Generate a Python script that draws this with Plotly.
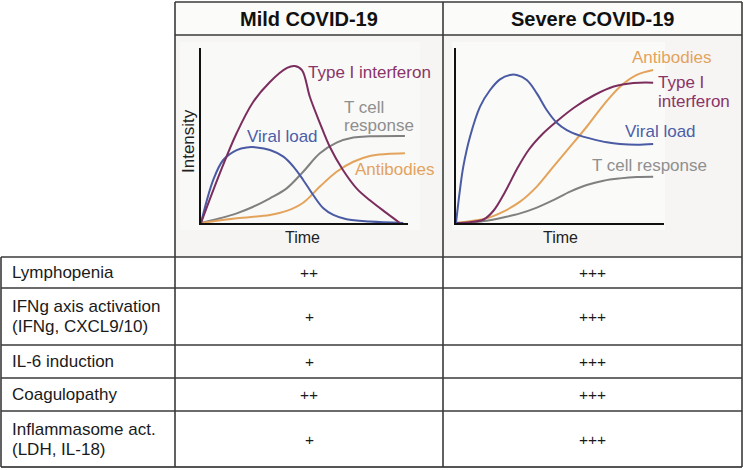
import plotly.graph_objects as go

W, H = 744, 470

# ---------------- data ----------------
panel_titles = ["Mild COVID-19", "Severe COVID-19"]

# Mild COVID-19 curves (time 0..10, intensity 0..10)
mild_ifn_t = [0, 0.93, 1.75, 2.55, 3.38, 4.22, 4.6, 4.95, 5.34, 5.83, 6.32, 6.96, 7.65, 8.28, 9.12, 9.75]
mild_ifn_v = [0, 2.86, 5.14, 6.9, 8.06, 8.86, 8.97, 8.74, 7.2, 5.71, 4.34, 3.03, 1.95, 1.3, 0.55, 0]
mild_vir_t = [0, 0.6, 1.09, 1.75, 2.24, 2.73, 3.38, 4.04, 4.53, 5.01, 5.5, 6.0, 6.49, 7.14, 8.28, 9.92]
mild_vir_v = [0, 2.46, 3.6, 4.17, 4.32, 4.32, 4.17, 3.79, 3.22, 2.46, 1.6, 0.84, 0.46, 0.21, 0.08, 0]
mild_tcell_t = [0, 0.93, 1.75, 2.56, 3.38, 4.2, 5.01, 5.83, 6.65, 7.47, 8.28, 10]
mild_tcell_v = [0, 0.27, 0.55, 0.93, 1.41, 1.98, 2.93, 3.98, 4.59, 4.88, 4.95, 4.97]
mild_ab_t = [0, 1.75, 3.38, 4.2, 5.01, 5.83, 6.65, 7.47, 8.28, 9.1, 10]
mild_ab_v = [0, 0.27, 0.46, 0.69, 1.16, 2.08, 2.93, 3.5, 3.83, 3.94, 3.98]

# Severe COVID-19 curves
sev_vir_t = [0, 0.2, 0.37, 0.71, 1.22, 1.73, 2.23, 2.74, 3.08, 3.59, 4.1, 4.6, 5.11, 5.62, 6.29, 6.97, 7.65, 8.32, 9.17, 10]
sev_vir_v = [0, 1.89, 3.22, 4.93, 6.65, 7.6, 8.21, 8.46, 8.46, 8.17, 7.41, 6.46, 5.73, 5.31, 4.99, 4.78, 4.61, 4.51, 4.47, 4.51]
sev_ifn_t = [0, 0.7, 1.4, 1.9, 2.5, 3.1, 3.7, 4.4, 5.1, 6.0, 7.0, 8.0, 9.0, 10]
sev_ifn_v = [0, 0.05, 0.2, 0.7, 1.8, 3.1, 4.2, 5.1, 5.8, 6.6, 7.3, 7.8, 8.0, 8.02]
sev_ab_t = [0, 1.56, 2.4, 3.25, 4.1, 4.94, 5.79, 6.63, 7.48, 8.32, 9.17, 10]
sev_ab_v = [0, 0.27, 0.65, 1.22, 2.08, 3.22, 4.36, 5.5, 6.74, 7.79, 8.46, 8.74]
sev_tcell_t = [0, 1.56, 2.4, 3.25, 4.1, 4.94, 5.79, 6.63, 7.48, 8.32, 9.17, 10]
sev_tcell_v = [0, 0.13, 0.32, 0.55, 0.88, 1.31, 1.79, 2.17, 2.42, 2.55, 2.63, 2.65]

# Table
features = [["Lymphopenia"], ["IFNg axis activation", "(IFNg, CXCL9/10)"], ["IL-6 induction"],
            ["Coagulopathy"], ["Inflammasome act.", "(LDH, IL-18)"]]
mild_scores = ["++", "+", "+", "++", "+"]
severe_scores = ["+++", "+++", "+++", "+++", "+++"]

# ---------------- styling ----------------
C_IFN, C_VIR, C_TC, C_AB = "#7b2d5d", "#4a5aa3", "#808080", "#e4a35b"
T_IFN, T_VIR, T_TC, T_AB = "#8a3468", "#4d5ea8", "#8f8f8f", "#e3a35e"
FONT = "Liberation Sans, Arial, sans-serif"
LINE = "#3a3a3a"

def px(x):
    return x / W

def py(y):
    return 1 - y / H

# layout geometry (pixels)
X_LEFT, X_C1, X_C2, X_RIGHT = 1, 175, 443, 742
Y_TOP, Y_HEAD, Y_PLOT = 2, 35, 257
row_edges = [257, 288, 345, 378, 411, 467]

fig = go.Figure()

def add_curve(t, v, color, xa, ya):
    fig.add_trace(go.Scatter(x=t, y=v, mode="lines", xaxis=xa, yaxis=ya,
                             line=dict(color=color, width=2, shape="spline", smoothing=1.0),
                             hoverinfo="skip", showlegend=False))

add_curve(mild_tcell_t, mild_tcell_v, C_TC, "x", "y")
add_curve(mild_ab_t, mild_ab_v, C_AB, "x", "y")
add_curve(mild_vir_t, mild_vir_v, C_VIR, "x", "y")
add_curve(mild_ifn_t, mild_ifn_v, C_IFN, "x", "y")

add_curve(sev_tcell_t, sev_tcell_v, C_TC, "x2", "y2")
add_curve(sev_ab_t, sev_ab_v, C_AB, "x2", "y2")
add_curve(sev_ifn_t, sev_ifn_v, C_IFN, "x2", "y2")
add_curve(sev_vir_t, sev_vir_v, C_VIR, "x2", "y2")

ax_common = dict(showgrid=False, zeroline=False, showticklabels=False, ticks="",
                 showline=True, linecolor="#111111", linewidth=2, fixedrange=True)

shapes = []
# cell backgrounds
shapes.append(dict(type="rect", xref="paper", yref="paper", x0=px(X_C1), x1=px(X_RIGHT),
                   y0=py(Y_HEAD), y1=py(Y_TOP), fillcolor="#fbfbfa", line=dict(width=0), layer="below"))
shapes.append(dict(type="rect", xref="paper", yref="paper", x0=px(X_C1), x1=px(X_RIGHT),
                   y0=py(Y_PLOT), y1=py(Y_HEAD), fillcolor="#f6f5f3", line=dict(width=0), layer="below"))
# inner lighter plot panels
shapes.append(dict(type="rect", xref="paper", yref="paper", x0=px(180), x1=px(420),
                   y0=py(230), y1=py(42), fillcolor="#f9f9f8", line=dict(width=0), layer="below"))
shapes.append(dict(type="rect", xref="paper", yref="paper", x0=px(452), x1=px(665),
                   y0=py(230), y1=py(42), fillcolor="#fafaf9", line=dict(width=0), layer="below"))

def hline(x0, x1, y, w=1.6, c=LINE):
    shapes.append(dict(type="line", xref="paper", yref="paper", x0=px(x0), x1=px(x1),
                       y0=py(y), y1=py(y), line=dict(color=c, width=w)))

def vline(x, y0, y1, w=1.6, c=LINE):
    shapes.append(dict(type="line", xref="paper", yref="paper", x0=px(x), x1=px(x),
                       y0=py(y0), y1=py(y1), line=dict(color=c, width=w)))

hline(X_C1, X_RIGHT, Y_TOP)
hline(X_C1, X_RIGHT, Y_HEAD)
for i, y in enumerate(row_edges):
    if i == len(row_edges) - 1:
        hline(X_LEFT, X_RIGHT, y, w=2.2, c="#555555")
    else:
        hline(X_LEFT, X_RIGHT, y)
vline(X_C1, Y_TOP, row_edges[-1])
vline(X_C2, Y_TOP, row_edges[-1])
vline(X_RIGHT, Y_TOP, row_edges[-1])
vline(X_LEFT, Y_PLOT, row_edges[-1])

ann = []

def text(t, x, y, size, color, xanchor="left", angle=0):
    ann.append(dict(text=t, x=px(x), y=py(y), xref="paper", yref="paper", showarrow=False,
                    xanchor=xanchor, yanchor="middle", align="left", textangle=angle,
                    font=dict(family=FONT, size=size, color=color)))

# headers
for title, (a, b) in zip(panel_titles, [(X_C1, X_C2), (X_C2, X_RIGHT)]):
    text(f"<b>{title}</b>", (a + b) / 2, 19, 20, "#111111", xanchor="center")

# axis labels
text("Intensity", 188, 141, 17, "#222222", xanchor="center", angle=-90)
for cx in (302.5, 560):
    text("Time", cx, 238, 16, "#222222", xanchor="center")

# curve labels (pixel positions)
labels = [
    ("Type I interferon", 306, 72, T_IFN),
    ("T cell", 342, 107, T_TC),
    ("response", 342, 125, T_TC),
    ("Viral load", 245, 136, T_VIR),
    ("Antibodies", 353, 170, T_AB),
    ("Antibodies", 630, 58, T_AB),
    ("Type I", 656, 83, T_IFN),
    ("interferon", 656, 101, T_IFN),
    ("Viral load", 623, 131, T_VIR),
    ("T cell response", 590, 166, T_TC),
]
for txt, x, y, c in labels:
    text(txt, x, y, 17, c)

# table text
for i, (feat, m, s) in enumerate(zip(features, mild_scores, severe_scores)):
    yc = (row_edges[i] + row_edges[i + 1]) / 2
    n = len(feat)
    for k, line in enumerate(feat):
        text(line, 10, yc + (k - (n - 1) / 2) * 20, 17, "#1a1a1a")
    text(m, (X_C1 + X_C2) / 2, yc, 15.5, "#1a1a1a", xanchor="center")
    text(s, (X_C2 + X_RIGHT) / 2, yc, 15.5, "#1a1a1a", xanchor="center")

fig.update_layout(
    width=W, height=H, margin=dict(l=0, r=0, t=0, b=0),
    paper_bgcolor="white", plot_bgcolor="rgba(0,0,0,0)",
    showlegend=False,
    xaxis=dict(domain=[px(201), px(408)], range=[0, 10.15], **ax_common),
    yaxis=dict(domain=[py(223), py(48)], range=[0, 10], **ax_common),
    xaxis2=dict(domain=[px(456), px(664)], range=[0, 10.55], anchor="y2", **ax_common),
    yaxis2=dict(domain=[py(223), py(48)], range=[0, 10], anchor="x2", **ax_common),
    shapes=shapes, annotations=ann,
)

fig.write_html("out.html", config={"displayModeBar": False},
               post_script="document.body.style.margin='0';document.body.style.overflow='hidden';")
